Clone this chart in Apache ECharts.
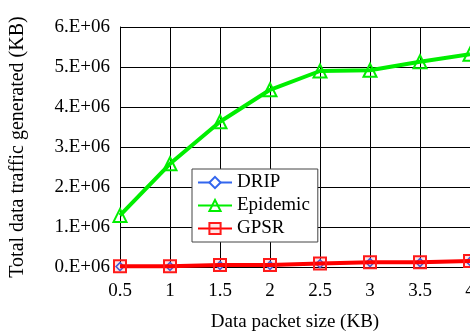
<!DOCTYPE html>
<html>
<head>
<meta charset="utf-8">
<script src="https://cdn.jsdelivr.net/npm/echarts@6/dist/echarts.min.js"></script>
<style>html,body{margin:0;padding:0;background:#fff}#c{width:470px;height:331px}</style>
</head>
<body>
<div id="c"></div>
<script>
const packetSize = [0.5, 1, 1.5, 2, 2.5, 3, 3.5, 4];
const drip = [10000, 15000, 40000, 40000, 80000, 110000, 110000, 140000];
const epidemic = [1290000, 2580000, 3630000, 4430000, 4900000, 4920000, 5130000, 5320000];
const gpsr = [20000, 20000, 50000, 50000, 90000, 120000, 120000, 150000];
const yTickLabels = ['0.E+06','1.E+06','2.E+06','3.E+06','4.E+06','5.E+06','6.E+06'];

const pairs = arr => packetSize.map((x, i) => [x, arr[i]]);
const font = 'Liberation Serif, Times New Roman, serif';
const chart = echarts.init(document.getElementById('c'), null, {renderer: 'canvas'});
chart.setOption({
  animation: false,
  backgroundColor: '#fff',
  textStyle: {fontFamily: font},
  grid: {left: 120, right: 0, top: 27, bottom: 64, containLabel: false, outerBoundsMode: 'none'},
  legend: {
    orient: 'vertical', left: 192, top: 169,
    backgroundColor: '#fff', borderColor: '#444', borderWidth: 1,
    padding: [4, 8, 4, 5], itemWidth: 34, itemHeight: 14, itemGap: 4,
    textStyle: {fontFamily: font, fontSize: 19, color: '#000'},
    data: ['DRIP', 'Epidemic', 'GPSR']
  },
  xAxis: {
    type: 'value', min: 0.5, max: 4, interval: 0.5,
    name: 'Data packet size (KB)', nameLocation: 'middle', nameGap: 46,
    nameTextStyle: {fontFamily: font, fontSize: 19, color: '#000'},
    axisLine: {lineStyle: {color: '#000', width: 1}},
    axisTick: {show: false},
    axisLabel: {fontFamily: font, fontSize: 19, color: '#000', margin: 15},
    splitLine: {show: true, lineStyle: {color: '#000', width: 1}}
  },
  yAxis: {
    type: 'value', min: 0, max: 6000000, interval: 1000000,
    name: 'Total data traffic generated (KB)', nameLocation: 'middle', nameGap: 92,
    nameTextStyle: {fontFamily: font, fontSize: 20, color: '#000'},
    axisLine: {show: true, lineStyle: {color: '#000', width: 1}},
    axisTick: {show: false},
    axisLabel: {fontFamily: font, fontSize: 19, color: '#000', margin: 10,
      formatter: v => yTickLabels[Math.round(v / 1000000)]},
    splitLine: {show: true, lineStyle: {color: '#000', width: 1}}
  },
  series: [
    {name: 'DRIP', type: 'line', data: pairs(drip), symbol: 'diamond', symbolSize: 8,
      lineStyle: {color: '#3366ee', width: 2}, itemStyle: {color: '#fff', borderColor: '#3366ee', borderWidth: 1.5}, z: 3},
    {name: 'Epidemic', type: 'line', data: pairs(epidemic), symbol: 'triangle', symbolSize: 13,
      lineStyle: {color: '#00ee00', width: 4}, itemStyle: {color: 'rgba(255,255,255,0)', borderColor: '#00ee00', borderWidth: 2}, z: 2},
    {name: 'GPSR', type: 'line', data: pairs(gpsr), symbol: 'rect', symbolSize: 12,
      lineStyle: {color: '#ff0000', width: 4}, itemStyle: {color: 'rgba(255,0,0,0.1)', borderColor: '#ff1a1a', borderWidth: 2}, z: 4}
  ]
});
</script>
</body>
</html>
